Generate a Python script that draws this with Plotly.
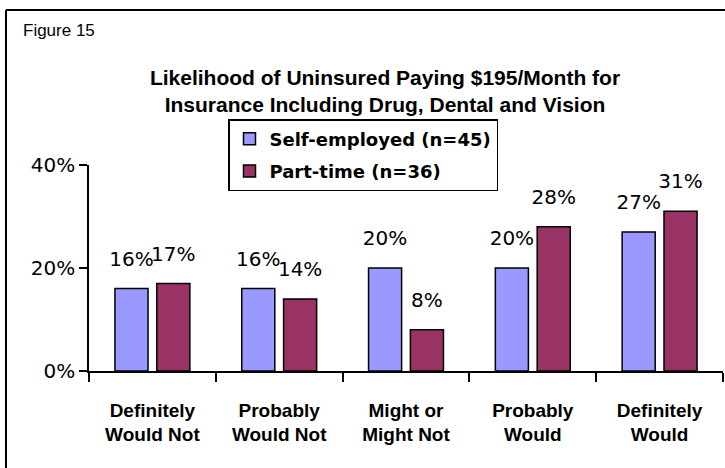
import plotly.graph_objects as go

categories = ["Definitely<br>Would Not", "Probably<br>Would Not", "Might or<br>Might Not",
              "Probably<br>Would", "Definitely<br>Would"]
self_employed = [16, 16, 20, 20, 27]
part_time = [17, 14, 8, 28, 31]
series_names = ["Self-employed (n=45)", "Part-time (n=36)"]
y_ticks = [0, 20, 40]

W, H = 725, 468
L, R, T, B = 89, 2, 165, 97


def px_x(p):
    return (p - L) / (W - L - R)


def px_y(q):
    return (H - B - q) / (H - T - B)


narrow = "Liberation Sans Narrow, Arial Narrow, Liberation Sans"

fig = go.Figure()
for name, vals, color, grp in [(series_names[0], self_employed, "#9999FF", "a"),
                               (series_names[1], part_time, "#993366", "b")]:
    # small second line pushes the label up off the bar top
    fig.add_trace(go.Bar(
        x=categories, y=vals, name="<b>" + name + "</b>",
        marker=dict(color=color, line=dict(color="black", width=1.5)),
        text=[f"<span style='font-size:20px'>{v}%</span><br> " for v in vals],
        textposition="outside",
        textfont=dict(family="DejaVu Sans", size=13, color="black"),
        constraintext="none", cliponaxis=False, legendgroup=grp,
    ))

fig.update_layout(
    width=W, height=H,
    margin=dict(l=L, r=R, t=T, b=B, autoexpand=False),
    paper_bgcolor="white", plot_bgcolor="white",
    barmode="group", bargap=0.34, bargroupgap=0.21,
    showlegend=True,
    legend=dict(x=px_x(228), y=px_y(119), xanchor="left", yanchor="top",
                bordercolor="black", borderwidth=1.5, bgcolor="white",
                font=dict(family="DejaVu Sans", size=18, color="black"),
                tracegroupgap=6, itemwidth=30),
    title=dict(text="<b>Likelihood of Uninsured Paying $195/Month for<br>"
                    "Insurance Including Drug, Dental and Vision</b>",
               x=385 / W, xanchor="center", y=1 - 85 / H, yanchor="top",
               font=dict(family=narrow, size=21, color="black")),
    xaxis=dict(showline=True, linecolor="black", linewidth=1.5, automargin=False,
               ticks="outside", ticklen=9, tickcolor="black", tickwidth=1.5,
               tickson="boundaries", showgrid=False, ticklabelstandoff=21,
               tickvals=categories, ticktext=["<b>" + c + "</b>" for c in categories],
               tickfont=dict(family=narrow, size=19, color="black")),
    yaxis=dict(range=[0, 40], tickvals=y_ticks, ticktext=[f"{v}%" for v in y_ticks],
               showline=True, linecolor="black", linewidth=1.5, automargin=False,
               ticks="outside", ticklen=8, tickcolor="black", tickwidth=1.5,
               showgrid=False, zeroline=False,
               tickfont=dict(family="DejaVu Sans", size=20, color="black")),
    annotations=[dict(text="Figure 15", xref="paper", yref="paper",
                      x=px_x(21), y=px_y(30), xanchor="left", yanchor="middle",
                      showarrow=False,
                      font=dict(family=narrow, size=17, color="black"))],
    shapes=[
        dict(type="line", xref="paper", yref="paper", x0=px_x(6), x1=px_x(W + 5),
             y0=px_y(10), y1=px_y(10), line=dict(color="black", width=2)),
        dict(type="line", xref="paper", yref="paper", x0=px_x(6), x1=px_x(6),
             y0=px_y(10), y1=px_y(H + 5), line=dict(color="black", width=2)),
    ],
)

fig.write_html("out.html", config={"displayModeBar": False},
               post_script="document.body.style.margin = '0';")
